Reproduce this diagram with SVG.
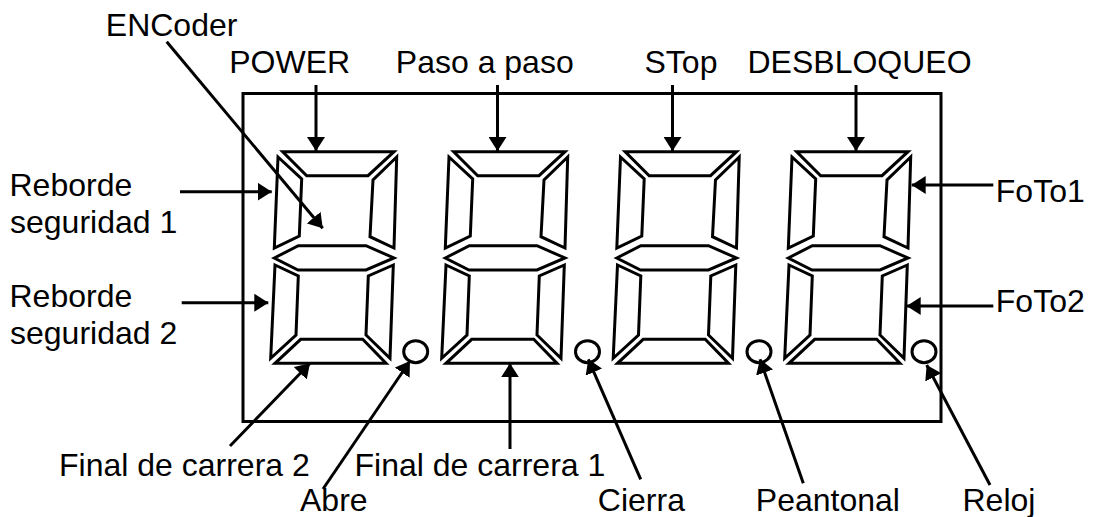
<svg xmlns="http://www.w3.org/2000/svg" xmlns:xlink="http://www.w3.org/1999/xlink" width="1093" height="517" viewBox="0 0 1093 517">
<style>
.t{font-family:"Liberation Sans",Arial,sans-serif;font-size:32px;fill:#000}
.seg{fill:none;stroke:#000;stroke-width:3;stroke-linejoin:miter}
.ln{fill:none;stroke:#000;stroke-width:3}
.dp{fill:none;stroke:#000;stroke-width:3}
</style>
<defs>
<marker id="ah" markerUnits="userSpaceOnUse" markerWidth="14" markerHeight="18" viewBox="0 0 14 18" refX="14" refY="9" orient="auto"><path d="M0,0L14,9L0,18z" fill="#000"/></marker>
<g id="dg">
<polygon class="seg" points="282.7,151.7 394,151.7 368,175.7 306.7,175.7"/>
<polygon class="seg" points="278,157 301.7,179 299.3,236 274.3,248"/>
<polygon class="seg" points="396.7,157 373,180 370,236.7 394,248"/>
<polygon class="seg" points="274.3,258 298.3,245.7 366,245.7 394,258 366,270 298,270"/>
<polygon class="seg" points="275,265 298.3,276 296,335 270.7,358.3"/>
<polygon class="seg" points="393.3,265 368.3,276 366,335 390,358.3"/>
<polygon class="seg" points="300.7,339.3 362.7,339.3 386,363.3 275,363.3"/>
</g>
</defs>
<rect width="1093" height="517" fill="#fff"/>
<g id="frame"><rect x="243" y="93.5" width="698" height="328" fill="none" stroke="#000" stroke-width="3"/></g>
<g id="digit1"><use xlink:href="#dg"/><ellipse class="dp" cx="415.7" cy="351.7" rx="12" ry="11"/></g>
<g id="digit2"><use xlink:href="#dg" x="171"/><ellipse class="dp" cx="587.5" cy="351.7" rx="12" ry="11"/></g>
<g id="digit3"><use xlink:href="#dg" x="342.5"/><ellipse class="dp" cx="759" cy="351.7" rx="12" ry="11"/></g>
<g id="digit4"><use xlink:href="#dg" x="514"/><ellipse class="dp" cx="924" cy="351.7" rx="12" ry="11"/></g>
<g id="connectors">
<line class="ln" x1="316" y1="85" x2="316" y2="151" marker-end="url(#ah)"/>
<line class="ln" x1="497.5" y1="85" x2="497.5" y2="151" marker-end="url(#ah)"/>
<line class="ln" x1="672.5" y1="85" x2="672.5" y2="151" marker-end="url(#ah)"/>
<line class="ln" x1="856" y1="85" x2="856" y2="151" marker-end="url(#ah)"/>
<line class="ln" x1="166.7" y1="41.7" x2="322.7" y2="228.3" marker-end="url(#ah)"/>
<line class="ln" x1="180" y1="191.7" x2="271.7" y2="191.7" marker-end="url(#ah)"/>
<line class="ln" x1="181.7" y1="302.7" x2="268.3" y2="302.7" marker-end="url(#ah)"/>
<line class="ln" x1="993.3" y1="185" x2="911.7" y2="185" marker-end="url(#ah)"/>
<line class="ln" x1="993.3" y1="306" x2="906.7" y2="306" marker-end="url(#ah)"/>
<line class="ln" x1="230" y1="446" x2="310" y2="363.3" marker-end="url(#ah)"/>
<line class="ln" x1="323" y1="489" x2="410" y2="361" marker-end="url(#ah)"/>
<line class="ln" x1="510" y1="449" x2="510" y2="363.3" marker-end="url(#ah)"/>
<line class="ln" x1="640.7" y1="479.3" x2="588.3" y2="359.3" marker-end="url(#ah)"/>
<line class="ln" x1="803.3" y1="483.3" x2="760" y2="359.3" marker-end="url(#ah)"/>
<line class="ln" x1="990" y1="485" x2="926.7" y2="365" marker-end="url(#ah)"/>
</g>
<g id="labels">
<text class="t" x="105.8" y="36">ENCoder</text>
<text class="t" x="229.2" y="73.3">POWER</text>
<text class="t" x="395.8" y="73.3">Paso a paso</text>
<text class="t" x="644.5" y="73.3">STop</text>
<text class="t" x="747.5" y="73.3">DESBLOQUEO</text>
<text class="t" x="9.5" y="196">Reborde</text>
<text class="t" x="10" y="233">seguridad 1</text>
<text class="t" x="9.5" y="307">Reborde</text>
<text class="t" x="10" y="344">seguridad 2</text>
<text class="t" x="995.8" y="201.7">FoTo1</text>
<text class="t" x="995.8" y="311.7">FoTo2</text>
<text class="t" x="59" y="476">Final de carrera 2</text>
<text class="t" x="354.5" y="476">Final de carrera 1</text>
<text class="t" x="300" y="511">Abre</text>
<text class="t" x="597.8" y="511">Cierra</text>
<text class="t" x="755.8" y="511">Peantonal</text>
<text class="t" x="962.5" y="511">Reloj</text>
</g>
</svg>
